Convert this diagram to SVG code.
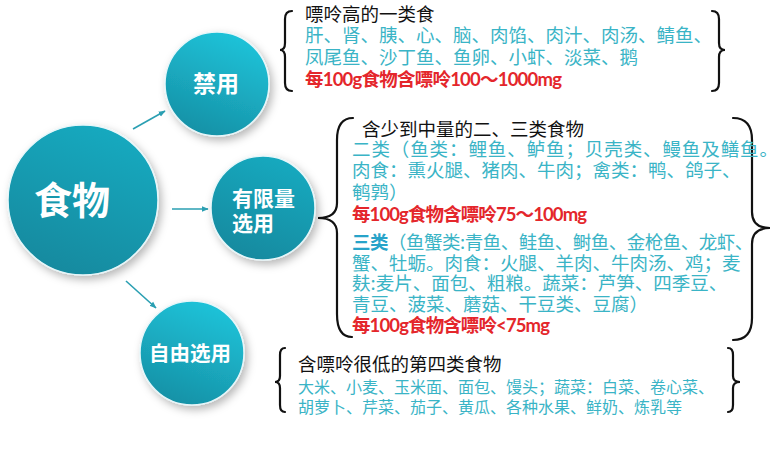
<svg xmlns="http://www.w3.org/2000/svg" width="782" height="454" viewBox="0 0 782 454">
<defs>
<linearGradient id="g1" x1="0.7" y1="0" x2="0.3" y2="1">
<stop offset="0" stop-color="#1fc4da"/>
<stop offset="1" stop-color="#1690a5"/>
</linearGradient>
<linearGradient id="g0" x1="0.7" y1="0" x2="0.3" y2="1">
<stop offset="0" stop-color="#16aac0"/>
<stop offset="1" stop-color="#13899e"/>
</linearGradient>
<filter id="sh" x="-30%" y="-30%" width="160%" height="160%">
<feDropShadow dx="3" dy="4" stdDeviation="4" flood-color="#000" flood-opacity="0.28"/>
</filter>
<marker id="ah" viewBox="0 0 10 10" refX="9" refY="5" markerWidth="7" markerHeight="7" orient="auto" markerUnits="userSpaceOnUse">
<path d="M0,1 L10,5 L0,9 Z" fill="#2a9fb2"/>
</marker>
<style>
.c{stroke:#e6f6f9;stroke-width:1.5;filter:url(#sh)}
.w{fill:#fff;font-family:"Noto Sans CJK SC",sans-serif;font-weight:bold}
.h{fill:#111;font-family:"Noto Sans CJK SC",sans-serif;font-size:18.5px}
.t{fill:#3ab4c6;font-family:"Noto Sans CJK SC",sans-serif;font-size:18.5px}
.s{fill:#3ab4c6;font-family:"Noto Sans CJK SC",sans-serif;font-size:16px}
.r{fill:#e4262b;font-family:"Lato","Noto Sans CJK SC",sans-serif;font-size:18.5px;font-weight:bold}
.b{fill:none;stroke:#111;stroke-width:2.2;stroke-linecap:round}
.a{stroke:#2a9fb2;stroke-width:1.6;fill:none}
</style>
</defs>
<rect width="782" height="454" fill="#fff"/>

<g id="connectors">
<line class="a" x1="133" y1="129" x2="165" y2="111" marker-end="url(#ah)"/>
<line class="a" x1="172" y1="209" x2="208" y2="209" marker-end="url(#ah)"/>
<line class="a" x1="126" y1="281" x2="156" y2="308" marker-end="url(#ah)"/>
</g>

<g id="node-food">
<circle class="c" cx="83" cy="200" r="75" fill="url(#g0)"/>
<text class="w" x="72" y="214" font-size="38" text-anchor="middle">食物</text>
</g>
<g id="node-forbidden">
<circle class="c" cx="217" cy="84" r="52" fill="url(#g1)"/>
<text class="w" x="216" y="92" font-size="23" text-anchor="middle">禁用</text>
</g>
<g id="node-limited">
<circle class="c" cx="263" cy="208" r="52" fill="url(#g0)"/>
<text class="w" x="232" y="206" font-size="21">有限量</text>
<text class="w" x="232" y="231" font-size="21">选用</text>
</g>
<g id="node-free">
<circle class="c" cx="192" cy="353" r="52" fill="url(#g1)"/>
<text class="w" x="190" y="361" font-size="20.5" text-anchor="middle">自由选用</text>
</g>

<g id="group-high">
<path class="b" d="M292,11 Q285,11 285,19 L285,43 Q285,50 280,50 Q285,50 285,57 L285,83 Q285,91 292,91"/>
<path class="b" d="M712,11 Q719,11 719,19 L719,43 Q719,50 725,50 Q719,50 719,57 L719,83 Q719,91 712,91"/>
<text class="h" x="305" y="21">嘌呤高的一类食</text>
<text class="t" x="305" y="42">肝、肾、胰、心、脑、肉馅、肉汁、肉汤、鲭鱼、</text>
<text class="t" x="305" y="64">凤尾鱼、沙丁鱼、鱼卵、小虾、淡菜、鹅</text>
<text class="r" x="305" y="86" textLength="257">每100g食物含嘌呤100～1000mg</text>
</g>

<g id="group-medium">
<path class="b" d="M353,118 Q337,118 337,140 L337,203 Q337,218 318,218 Q337,218 337,233 L337,314 Q337,337 352,337"/>
<path class="b" d="M733,118 Q752,118 752,140 L752,212 Q752,228 770,228 Q752,228 752,244 L752,318 Q752,340 733,340"/>
<text class="h" x="362" y="136">含少到中量的二、三类食物</text>
<text class="t" x="352" y="156" textLength="426">二类（鱼类：鲤鱼、鲈鱼；贝壳类、鳗鱼及鳝鱼。</text>
<text class="t" x="352" y="177">肉食：熏火腿、猪肉、牛肉；禽类：鸭、鸽子、</text>
<text class="t" x="352" y="199">鹌鹑）</text>
<text class="r" x="352" y="221" textLength="235">每100g食物含嘌呤75～100mg</text>
<text class="t" x="352" y="249" letter-spacing="-0.5"><tspan font-weight="bold" fill="#27a3c9">三类</tspan>（鱼蟹类:青鱼、鲑鱼、鲥鱼、金枪鱼、龙虾、</text>
<text class="t" x="352" y="270">蟹、牡蛎。肉食：火腿、羊肉、牛肉汤、鸡；麦</text>
<text class="t" x="352" y="290">麸:麦片、面包、粗粮。蔬菜：芦笋、四季豆、</text>
<text class="t" x="352" y="311">青豆、菠菜、蘑菇、干豆类、豆腐）</text>
<text class="r" x="352" y="332" textLength="198">每100g食物含嘌呤&lt;75mg</text>
</g>

<g id="group-low">
<path class="b" d="M285,348 Q280,348 280,355 L280,376 Q280,382 275,382 Q280,382 280,388 L280,405 Q280,412 285,412"/>
<path class="b" d="M728,348 Q733,348 733,355 L733,376 Q733,382 740,382 Q733,382 733,388 L733,405 Q733,412 728,412"/>
<text class="h" x="298" y="371">含嘌呤很低的第四类食物</text>
<text class="s" x="298" y="393">大米、小麦、玉米面、面包、馒头；蔬菜：白菜、卷心菜、</text>
<text class="s" x="298" y="413">胡萝卜、芹菜、茄子、黄瓜、各种水果、鲜奶、炼乳等</text>
</g>
</svg>
